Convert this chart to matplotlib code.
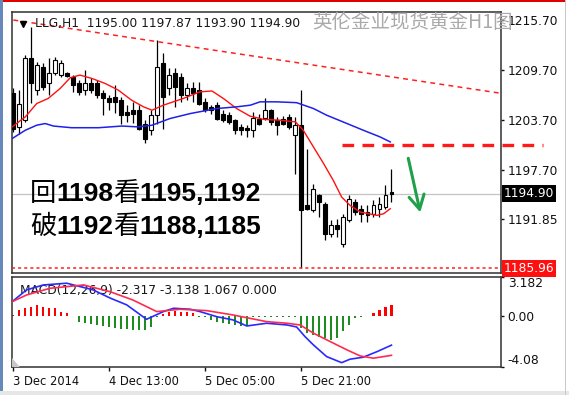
import numpy as np
import matplotlib
matplotlib.use('Agg')
import matplotlib.pyplot as plt
from matplotlib.patches import Rectangle, Polygon
from matplotlib.offsetbox import TextArea, HPacker, AnnotationBbox

# --- XAUUSD H1 candles (bar 0 = 3 Dec 21:00) ---
opens = [1207.0, 1202.9, 1203.7, 1211.1, 1207.3, 1210.1, 1208.1, 1209.3, 1209.1, 1209.3,
         1208.9, 1208.1, 1207.3, 1208.1, 1208.1, 1207.0, 1206.3, 1206.5, 1206.1, 1204.7,
         1204.9, 1204.9, 1203.3, 1202.5, 1204.3, 1210.6, 1207.5, 1209.3, 1208.9, 1206.7,
         1207.5, 1207.3, 1205.9, 1205.3, 1205.5, 1204.5, 1204.3, 1203.7, 1202.9, 1202.8,
         1202.5, 1203.9, 1204.0, 1204.9, 1203.7, 1203.9, 1204.1, 1201.9, 1203.1, 1193.6,
         1192.9, 1194.7, 1193.7, 1190.1, 1191.1, 1188.9, 1191.7, 1193.9, 1193.1, 1192.7,
         1192.5, 1193.1, 1193.3, 1195.00]
highs = [1207.6, 1207.3, 1211.5, 1214.9, 1210.7, 1210.5, 1211.1, 1211.3, 1210.9, 1209.5,
         1209.1, 1208.5, 1209.7, 1208.8, 1208.5, 1207.3, 1206.7, 1207.9, 1206.5, 1205.5,
         1205.9, 1205.5, 1203.7, 1204.9, 1213.3, 1211.7, 1209.9, 1209.9, 1209.3, 1208.1,
         1208.3, 1208.3, 1206.3, 1205.5, 1205.9, 1204.9, 1204.7, 1203.9, 1203.3, 1203.1,
         1204.7, 1204.5, 1206.3, 1205.1, 1204.1, 1204.2, 1204.5, 1204.1, 1207.3, 1200.3,
         1196.1, 1194.9, 1193.9, 1191.7, 1191.9, 1192.5, 1194.7, 1194.3, 1193.5, 1193.5,
         1194.1, 1194.5, 1195.9, 1197.87]
lows = [1202.3, 1202.0, 1203.5, 1205.8, 1206.7, 1207.3, 1206.7, 1209.1, 1208.9, 1208.9,
        1207.1, 1206.7, 1206.7, 1207.0, 1206.4, 1204.3, 1204.9, 1204.6, 1203.3, 1203.5,
        1203.4, 1202.5, 1201.0, 1201.9, 1203.3, 1202.7, 1206.7, 1205.3, 1205.9, 1206.1,
        1205.9, 1205.5, 1204.7, 1204.5, 1203.7, 1203.5, 1203.3, 1202.1, 1201.9, 1201.7,
        1201.7, 1203.1, 1203.7, 1203.1, 1201.9, 1203.1, 1202.7, 1197.3, 1185.96, 1192.9,
        1192.7, 1192.1, 1189.3, 1189.7, 1189.7, 1188.5, 1191.5, 1192.4, 1191.5, 1191.5,
        1192.1, 1192.1, 1193.1, 1193.90]
closes = [1202.6, 1205.7, 1211.1, 1208.1, 1210.3, 1207.7, 1209.3, 1210.9, 1210.6, 1209.0,
          1207.9, 1207.1, 1208.1, 1207.3, 1206.7, 1206.3, 1205.9, 1205.9, 1204.3, 1204.3,
          1204.5, 1202.7, 1201.4, 1204.3, 1210.1, 1206.5, 1209.1, 1207.7, 1206.7, 1207.5,
          1206.9, 1205.7, 1204.9, 1204.9, 1203.9, 1203.7, 1203.5, 1202.5, 1202.5, 1202.5,
          1204.0, 1203.3, 1204.9, 1203.5, 1203.1, 1203.3, 1202.9, 1203.1, 1192.9, 1193.1,
          1195.5, 1193.9, 1190.1, 1191.1, 1190.7, 1192.1, 1194.3, 1192.7, 1192.5, 1192.3,
          1193.5, 1193.7, 1194.7, 1194.90]

# moving averages (read at points along the lines)
fast_idx = [-0.2, 2.0, 3.9, 5.8, 7.8, 9.5, 11.1, 13.1, 15.3, 17.5, 19.7, 21.7, 23.1, 25.0,
            28.3, 31.1, 33.1, 35.0, 37.2, 39.4, 41.7, 44.4, 47.0, 48.3, 50.0, 51.7, 53.3,
            54.7, 56.1, 57.8, 59.2, 60.6, 61.7, 62.8]
fast_val = [1202.9, 1204.1, 1205.7, 1206.3, 1207.5, 1208.8, 1209.1, 1208.7, 1208.1, 1207.3,
            1206.1, 1205.3, 1204.9, 1205.5, 1206.3, 1207.1, 1207.2, 1206.3, 1205.1, 1204.2,
            1203.8, 1203.7, 1203.5, 1202.5, 1200.5, 1198.5, 1196.5, 1194.5, 1193.5, 1192.7,
            1192.5, 1192.3, 1192.5, 1193.1]
slow_idx = [-0.2, 2.0, 3.9, 5.3, 6.7, 9.7, 14.2, 18.1, 20.8, 23.1, 26.1, 29.5, 31.7, 33.9,
            37.2, 39.5, 41.1, 43.9, 47.2, 50.0, 52.2, 55.6, 58.3, 61.1, 62.8]
slow_val = [1201.5, 1202.5, 1203.1, 1203.3, 1203.0, 1202.8, 1202.8, 1203.0, 1202.9, 1203.1,
            1203.9, 1204.5, 1204.8, 1205.1, 1205.3, 1205.5, 1205.9, 1205.9, 1205.8, 1205.1,
            1204.3, 1203.3, 1202.5, 1201.7, 1201.1]

trend_idx = [0, 81]
trend_val = [1215.7, 1206.95]
resist_idx = [54.8, 88.3]
resist_val = [1200.7, 1200.7]
last_price = 1194.90
low_price = 1185.96

# MACD(12,26,9)
hist = [0.12, 0.52, 0.66, 0.79, 0.93, 0.79, 0.66, 0.66, 0.39, 0.26,
        0.02, -0.42, -0.50, -0.63, -0.71, -0.77, -0.82, -0.90, -0.98, -1.03,
        -1.08, -1.12, -1.08, -0.82, -0.08, 0.20, 0.35, 0.40, 0.38, 0.35,
        0.30, -0.05, -0.08, -0.30, -0.45, -0.55, -0.62, -0.70, -0.75, -0.78,
        -0.06, -0.06, -0.05, -0.05, -0.03, -0.05, -0.05, -0.05, -0.95, -1.35,
        -1.48, -1.62, -1.75, -1.89, -1.75, -1.21, -0.67, -0.10, -0.05, 0.05,
        0.26, 0.52, 0.74, 0.93]
macd_idx = [-0.2, 2.2, 5.0, 8.9, 13.3, 16.1, 18.9, 22.2, 25.0, 26.7, 29.5, 31.1, 33.9,
            36.6, 38.9, 42.2, 45.6, 47.2, 48.6, 50.0, 52.2, 54.7, 56.1, 58.3, 60.6, 63.0]
macd_val = [1.19, 2.14, 2.54, 2.68, 2.14, 1.49, 0.93, -0.23, 0.39, 0.66, 0.58, 0.39, -0.02,
            -0.28, -0.77, -0.55, -0.69, -0.85, -1.63, -2.30, -3.24, -3.73, -3.45, -3.29,
            -2.84, -2.317]
signal_idx = [-0.2, 2.2, 6.1, 11.7, 16.1, 19.9, 23.9, 27.8, 32.2, 36.6, 42.2, 45.6, 47.8,
              50.0, 52.8, 55.6, 57.8, 60.0, 63.0]
signal_val = [1.19, 1.73, 2.27, 2.54, 2.0, 1.33, 0.39, 0.58, 0.47, 0.12, -0.42, -0.55,
              -0.69, -1.35, -2.03, -2.70, -3.19, -3.37, -3.138]

price_ticks = [1215.70, 1209.70, 1203.70, 1197.70, 1191.85]
macd_ticks = [3.182, 0.0, -4.08]
macd_tick_labels = ['3.182', '0.00', '-4.08']
time_ticks = [0, 16, 32, 48]
time_labels = ['3 Dec 2014', '4 Dec 13:00', '5 Dec 05:00', '5 Dec 21:00']

note_lines = [['回', '1198', '看', '1195,1192'],
              ['破', '1192', '看', '1188,1185']]

W, H = 569, 395
fig = plt.figure(figsize=(W / 100, H / 100), dpi=100, facecolor='white')

ax = fig.add_axes([12 / W, 1 - 272.5 / H, 488.7 / W, 260.5 / H])
mx = fig.add_axes([12 / W, 1 - 367 / H, 488.7 / W, 90 / H])

o = np.array(opens); c = np.array(closes)
x = np.arange(len(opens))
up = c >= o
body = np.maximum(np.abs(c - o), 0.15)
ax.vlines(x, lows, highs, color='black', lw=0.9, zorder=3)
ax.bar(x, body, bottom=np.minimum(o, c), width=0.65,
       color=np.where(up, 'white', 'black'), edgecolor='black', linewidth=0.8, zorder=4)

ax.plot(fast_idx, fast_val, color='#ff1010', lw=1.0, zorder=5)
ax.plot(slow_idx, slow_val, color='#2020e8', lw=1.1, zorder=5)
ax.plot(trend_idx, trend_val, color='#ff2020', lw=1.1, dashes=(3.2, 2.8), zorder=5)
ax.axhline(last_price, color='#c4c4c4', lw=0.9, zorder=1)
ax.axhline(low_price, color='#ff2020', lw=1.1, dashes=(2, 2), zorder=5)
ax.plot(resist_idx, resist_val, color='#ff1a1a', lw=2.4, dashes=(3.5, 2.5),
        clip_on=False, zorder=6)
ax.annotate('', xy=(67.8, 1192.66), xytext=(65.8, 1199.14),
            arrowprops=dict(arrowstyle='->,head_length=1.0,head_width=0.55',
                            color='#20a04a', lw=2.2, shrinkA=0, shrinkB=0), zorder=6)

ax.set_xlim(-0.22, 81.2)
ax.set_ylim(1185.46, 1216.66)
ax.set_xticks([])
ax.yaxis.tick_right()
ax.set_yticks(price_ticks)
ax.set_yticklabels(['%.2f' % v for v in price_ticks])
ax.tick_params(axis='y', length=2.5, width=1, pad=2.5, labelsize=8.8, colors='#101010')

trans = ax.get_yaxis_transform()
ax.text(1.006, last_price, '%.2f' % last_price, transform=trans, color='white',
        fontsize=8.8, va='center', ha='left', zorder=7,
        bbox=dict(boxstyle='square,pad=0.15', fc='black', ec='none'))
ax.text(1.006, low_price, '%.2f' % low_price, transform=trans, color='white',
        fontsize=8.8, va='center', ha='left', zorder=7,
        bbox=dict(boxstyle='square,pad=0.15', fc='#ff1010', ec='none'))

ax.plot([0.0215], [0.954], marker='v', color='black', ms=5, transform=ax.transAxes,
        clip_on=False, zorder=8)
ax.text(0.047, 0.954, 'LLG,H1  1195.00 1197.87 1193.90 1194.90', transform=ax.transAxes,
        fontsize=8.8, color='#181818', va='center', ha='left', zorder=8)

# forecast note: regular CJK characters, bold digits
cjk_props = dict(fontsize=19, family='Noto Sans CJK SC', color='black')
num_props = dict(fontsize=19, family='Liberation Sans', fontweight='bold', color='black')
for parts, ypos in zip(note_lines, [0.305, 0.175]):
    kids = [TextArea(t, textprops=cjk_props if i % 2 == 0 else num_props)
            for i, t in enumerate(parts)]
    box = HPacker(children=kids, pad=0, sep=0, align='baseline')
    ab = AnnotationBbox(box, (0.0368, ypos), xycoords='axes fraction',
                        box_alignment=(0, 0.5), frameon=False, pad=0, zorder=9)
    ax.add_artist(ab)

# MACD panel
hv = np.array(hist)
mx.bar(x, hv, width=0.35, color=np.where(hv >= 0, '#ff0000', '#1e8c1e'), zorder=2)
mx.plot(macd_idx, macd_val, color='#2a2aff', lw=1.2, zorder=3)
mx.plot(signal_idx, signal_val, color='#ff2a50', lw=1.2, zorder=3)
mx.text(0.0164, 0.848, 'MACD(12,26,9) -2.317 -3.138 1.067 0.000', transform=mx.transAxes,
        fontsize=8.8, color='#181818', va='center', ha='left', zorder=1)
mx.add_patch(Polygon([(0, 0), (0.016, 0), (0, 0.1)], closed=True, transform=mx.transAxes,
                     fc='#c8c8c8', ec='none', zorder=4))
mx.set_xlim(-0.22, 81.2)
mx.set_ylim(-4.08, 3.182)
mx.yaxis.tick_right()
mx.set_yticks(macd_ticks)
mx.set_yticklabels(macd_tick_labels)
mx.tick_params(axis='y', length=2.5, width=1, pad=2.5, labelsize=8.8, colors='#101010')
labels = mx.get_yticklabels()
labels[0].set_va('top')
labels[2].set_va('bottom')
mx.set_xticks(time_ticks)
mx.set_xticklabels(time_labels)
mx.tick_params(axis='x', length=3, width=1, pad=2.5, labelsize=8.3, colors='#101010')
for lbl in mx.get_xticklabels():
    lbl.set_ha('left')

for a in (ax, mx):
    for s in a.spines.values():
        s.set_color('#303030')
        s.set_linewidth(1.1)

fig.text(312 / W, 1 - 23 / H, '英伦金业现货黄金H1图', color='#aaaaaa', fontsize=14,
         family='Noto Sans CJK SC', va='center', ha='left')

# screenshot frame
fig.add_artist(Rectangle((0, 1 - 1.5 / H), 565 / W, 1.5 / H, transform=fig.transFigure,
                         fc='#e00000', ec='none'))
fig.add_artist(Rectangle((0, 0), 2.5 / W, 1, transform=fig.transFigure,
                         fc='#6688bb', ec='none'))
fig.add_artist(Rectangle((0, 0), 1, 4 / H, transform=fig.transFigure,
                         fc='#e6e6e6', ec='none'))
fig.add_artist(Rectangle((565 / W, 0), 1 / W, 1, transform=fig.transFigure,
                         fc='#c8c8c8', ec='none'))

fig.savefig('out.png', dpi=100, facecolor='white')
